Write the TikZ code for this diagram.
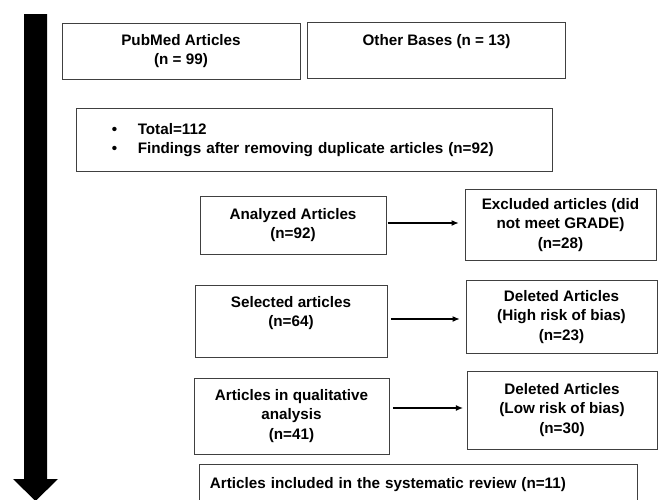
\documentclass[tikz,border=0pt]{standalone}
\usepackage{fontspec}
\setmainfont{Liberation Sans}
\usepackage{xcolor}
\usetikzlibrary{
    arrows.meta,
    calc
}

\begin{document}
\begin{tikzpicture}[->,>={Latex[length=6pt,width=5pt]},x=0.03cm,y=-0.03cm,line width=1pt]
    \tikzstyle{box}=[draw=black!75, line width=0.8pt, rectangle, align=center, inner sep=2pt, font=\fontsize{13}{16.6}\selectfont\bfseries]
	\useasboundingbox (0,0) rectangle (660,500);

	\fill (24,14) -- (47,14) -- (47,479) -- (58,479) -- (35.5,501) -- (13,479) -- (24,479) -- cycle;

	\node [box, minimum width=7.14cm, minimum height=1.68cm] (pub) at (181,51) {PubMed Articles\\ (n = 99)};
	\node [box, minimum width=7.74cm, minimum height=1.68cm] (other) at (436.5,50) {Other Bases (n = 13)\\ \mbox{}};

	\node [box, align=left, text width=12.12cm, inner xsep=1.08cm, minimum height=1.89cm] (total) at (314,140) {\makebox[22pt][l]{\textbullet}Total=112\\ \makebox[22pt][l]{\textbullet}Findings after removing duplicate articles (n=92)};

	\node [box, minimum width=5.58cm, minimum height=1.74cm] (anal) at (293,225) {Analyzed Articles\\ (n=92)};
	\node [box, minimum width=5.73cm, minimum height=2.13cm] (excl) at (560.5,225) {Excluded articles (did\\ not meet GRADE)\\ (n=28)};

	\node [box, minimum width=5.76cm, minimum height=2.16cm] (sel) at (291,321) {Selected articles\\ (n=64)\\ \mbox{}};
	\node [box, minimum width=5.73cm, minimum height=2.19cm] (high) at (561.5,317) {Deleted Articles\\ (High risk of bias)\\ (n=23)};

	\node [box, minimum width=5.85cm, minimum height=2.28cm] (qual) at (291.5,416) {Articles in qualitative\\ analysis\\ (n=41)};
	\node [box, minimum width=5.7cm, minimum height=2.34cm] (low) at (562,410) {Deleted Articles\\ (Low risk of bias)\\ (n=30)};

	\node [box, align=left, text width=12.48cm, inner xsep=0.33cm, minimum height=1.74cm] (final) at (418,493) {Articles included in the systematic review (n=11)\\ \mbox{}};

	\draw [shorten <=1pt, shorten >=5pt] ($(anal.east)+(0,-2)$) -- ($(anal.east -| excl.west)+(0,-2)$);
	\draw [shorten <=3pt, shorten >=5pt] ($(sel.east)+(0,-2)$) -- ($(sel.east -| high.west)+(0,-2)$);
	\draw [shorten <=3pt, shorten >=3pt] ($(qual.east |- low.west)+(0,-2)$) -- ($(low.west)+(0,-2)$);
\end{tikzpicture}
\end{document}
